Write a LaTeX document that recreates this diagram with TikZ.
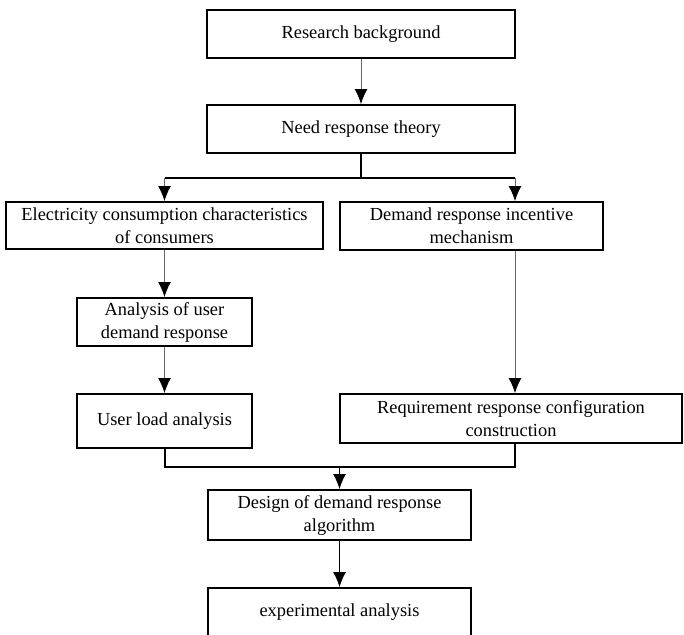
\documentclass[tikz,border=0pt]{standalone}
\usepackage{fontspec}
\setmainfont{Liberation Serif}
\usetikzlibrary{positioning, arrows.meta}

\begin{document}
\begin{tikzpicture}[x=0.5pt, y=-0.5pt,
    >={Latex[length=7.5pt, width=6.5pt, color=black]},
    box/.style={draw, line width=1pt, align=center, inner sep=0pt,
        font=\fontsize{9.2}{11.5}\selectfont},
    shaft/.style={->, draw=black!60, line width=0.5pt},
    bar/.style={line width=1pt}]
    \useasboundingbox (0,0) rectangle (684,634);
    \clip (0,0) rectangle (684,634);

    \node[box, minimum width=154pt, minimum height=24pt] (bg) at (361,34) {Research background};
    \node[box, minimum width=154pt, minimum height=24pt] (theory) at (361,129) {Need response theory};
    \node[box, minimum width=158.5pt, minimum height=23.5pt] (elec) at (164.5,225.5) {Electricity consumption characteristics\\of consumers};
    \node[box, minimum width=131.5pt, minimum height=24pt] (incent) at (471.5,226) {Demand response incentive\\mechanism};
    \node[box, minimum width=87.5pt, minimum height=24pt] (user) at (164.5,322) {Analysis of user\\demand response};
    \node[box, minimum width=87.5pt, minimum height=27pt] (load) at (164.5,421) {User load analysis};
    \node[box, minimum width=171pt, minimum height=24.5pt] (config) at (511,418.5) {Requirement response configuration\\construction};
    \node[box, minimum width=131.5pt, minimum height=25pt] (algo) at (339.5,515) {Design of demand response\\algorithm};
    \node[box, minimum width=131.5pt, minimum height=24pt] (exp) at (339.5,612) {experimental analysis};

    % split below the theory
    \coordinate (split) at (361,178);
    \coordinate (rsplit) at (515,178);
    \draw[shaft] (bg) -- (theory);
    \draw[bar] (theory.south) -- (split) -- (split -| elec.north) (split) -- (rsplit);
    \draw[shaft] (split -| elec.north) -- (elec.north);
    \draw[shaft] (rsplit) -- (rsplit |- incent.north);

    % left column
    \draw[shaft] (elec) -- (user);
    \draw[shaft] (user) -- (load);

    % right column
    \draw[shaft] (rsplit |- incent.south) -- (rsplit |- config.north);

    % merge into the design
    \coordinate (merge) at (algo.north |- 0,467);
    \draw[bar] (load.south) |- (rsplit |- merge) -- (rsplit |- config.south);
    \draw[shaft, draw=black] (merge) -- (algo.north);
    \draw[shaft, draw=black] (algo) -- (exp);
\end{tikzpicture}
\end{document}
